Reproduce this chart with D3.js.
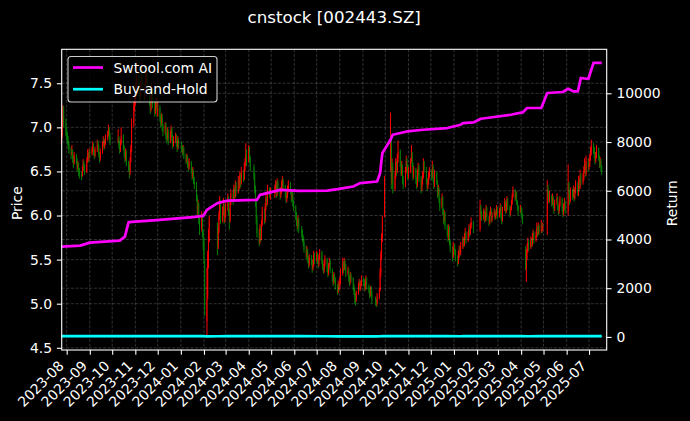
<!DOCTYPE html>
<html><head><meta charset="utf-8">
<script src="https://cdn.jsdelivr.net/npm/d3@7"></script>
<style>body{margin:0;background:#000}svg{display:block}</style>
</head><body>
<svg id="chart" width="690" height="421"></svg>
<script>
// ---------------- DATA ----------------
const chartTitle = "cnstock [002443.SZ]";
const seriesNames = ["Swtool.com AI", "Buy-and-Hold"];
const monthTicks = ["2023-08","2023-09","2023-10","2023-11","2023-12","2024-01","2024-02","2024-03","2024-04","2024-05","2024-06","2024-07","2024-08","2024-09","2024-10","2024-11","2024-12","2025-01","2025-02","2025-03","2025-04","2025-05","2025-06","2025-07"];
const priceTicks = [4.5, 5.0, 5.5, 6.0, 6.5, 7.0, 7.5];
const returnTicks = [0, 2000, 4000, 6000, 8000, 10000];
const firstTradeDate = "2023-07-25";
const lastTradeDate = "2025-07-18";
const holidays = ["2023-09-29","2023-10-02","2023-10-03","2023-10-04","2023-10-05","2023-10-06","2024-01-01","2024-02-09","2024-02-12","2024-02-13","2024-02-14","2024-02-15","2024-02-16","2024-04-04","2024-04-05","2024-05-01","2024-05-02","2024-05-03","2024-06-10","2024-09-16","2024-09-17","2024-10-01","2024-10-02","2024-10-03","2024-10-04","2024-10-07","2025-01-01","2025-01-28","2025-01-29","2025-01-30","2025-01-31","2025-02-03","2025-02-04","2025-04-04","2025-05-01","2025-05-02","2025-05-05","2025-06-02"];
// daily candles per month: "open high low close" in fen (price*100), one group per trading day
const candleMonths = ["2023-07","2023-08","2023-09","2023-10","2023-11","2023-12","2024-01","2024-02","2024-03","2024-04","2024-05","2024-06","2024-07","2024-08","2024-09","2024-10","2024-11","2024-12","2025-01","2025-02","2025-03","2025-04","2025-05","2025-06","2025-07"];
const candleData = [
"685 698 680 690,690 710 688 705,705 725 700 722,722 724 700 705,705 710 690 695",
"695 700 685 690,690 695 680 685,685 690 675 680,680 684 670 675,675 678 664 670,670 680 668 672,672 675 660 665,665 668 654 660,660 672 658 668,668 670 658 662,662 665 650 655,655 662 652 658,658 660 645 650,650 654 642 648,648 650 640 645,645 656 644 652,652 664 650 660,660 662 650 655,655 658 646 650,650 666 648 662,662 675 660 670,670 672 660 665,665 676 662 672",
"672 675 665 670,670 678 668 675,675 684 672 680,680 682 668 672,672 675 664 668,668 678 666 675,675 686 672 682,682 685 674 678,678 680 666 670,670 672 660 665,665 676 662 672,672 684 670 680,680 690 678 685,685 688 674 678,678 686 676 682,682 692 680 688,688 696 685 692,692 703 690 698,698 700 686 690,690 694 680 685",
"685 698 682 688,688 690 676 680,680 684 670 675,675 686 672 682,682 700 680 690,690 692 674 678,678 680 666 670,670 672 660 665,665 676 662 672,672 674 656 660,660 662 650 655,655 658 642 648,648 666 646 662,662 680 660 675,675 710 672 705,705 730 700 725,725 738 718 730",
"730 752 725 745,745 760 735 740,740 765 738 758,758 762 740 745,745 748 728 735,735 752 732 748,748 773 745 765,765 768 742 748,748 750 730 735,735 752 732 745,745 762 742 755,755 768 750 760,760 762 738 742,742 745 725 730,730 734 715 720,720 738 718 732,732 748 730 742,742 745 722 728,728 730 712 718,718 728 715 722,722 734 720 728,728 730 712 718",
"718 732 712 722,722 725 706 710,710 714 700 705,705 716 702 712,712 715 696 700,700 704 690 695,695 706 692 702,702 705 686 690,690 694 682 688,688 700 685 695,695 698 680 685,685 696 682 692,692 702 688 698,698 700 684 688,688 692 676 680,680 690 678 685,685 694 682 690,690 692 678 682,682 686 672 678,678 690 675 685,685 688 676 680",
"680 684 672 678,678 680 668 672,672 680 670 675,675 678 664 668,668 670 658 662,662 670 660 665,665 668 654 658,658 662 650 655,655 665 652 660,660 662 648 652,652 655 640 645,645 655 642 650,650 652 636 640,640 644 630 635,635 638 616 620,620 624 600 605,605 618 600 612,612 615 590 595,595 600 578 585,585 605 582 600,600 602 575 580,580 584 560 565",
"570 575 545 550,545 550 486 495,480 541 463 505,510 560 505 555,550 585 540 580,585 600 570 595,590 592 555 565,565 588 562 582,582 605 580 600,600 622 595 615,615 618 590 595,595 610 592 605,605 620 600 612,612 615 590 595,595 608 592 602",
"602 615 598 610,610 625 605 620,620 622 600 605,605 608 584 595,595 618 592 615,615 630 612 625,625 628 612 618,618 635 615 630,630 632 618 622,622 640 620 635,635 638 622 628,628 645 625 640,640 642 628 632,632 650 630 645,645 648 632 638,638 655 635 650,650 652 638 642,642 660 640 655,655 665 650 660,660 682 656 670,670 675 656 662",
"662 680 660 675,675 678 660 665,665 668 650 655,655 658 640 645,645 648 625 630,630 634 610 615,615 618 590 595,595 600 575 580,580 585 565 570,570 590 568 585,585 588 570 575,575 595 572 590,590 610 588 605,605 608 590 595,595 614 592 610,610 625 606 620,620 622 610 615,615 635 612 630,630 632 620 625,625 632 618 628",
"628 635 620 630,630 640 625 635,635 638 620 625,625 642 622 638,638 640 625 630,630 632 618 622,622 632 620 628,628 640 625 635,635 645 630 640,640 642 628 632,632 635 620 625,625 628 614 618,618 626 615 622,622 634 620 630,630 640 626 635,635 638 624 628,628 630 615 620,620 628 618 625,625 628 610 615,615 618 605 610",
"610 612 595 600,600 604 588 592,592 596 582 588,588 600 585 595,595 598 580 585,585 588 575 580,580 584 570 575,575 578 565 570,570 574 558 562,562 566 550 555,555 565 552 560,560 562 546 550,550 554 540 545,545 556 542 552,552 555 544 548,548 550 535 540,540 550 538 545,545 560 542 555,555 558 545 550",
"550 560 548 555,555 558 545 550,550 552 540 545,545 556 542 552,552 562 550 558,558 560 545 548,548 550 538 542,542 545 534 538,538 550 535 545,545 555 542 550,550 552 536 540,540 542 530 535,535 546 532 542,542 552 540 548,548 550 535 538,538 540 525 530,530 532 520 525,525 536 522 532,532 534 524 528,528 530 516 520,520 522 510 515,515 526 512 522,522 524 514 518",
"518 530 516 525,525 540 522 535,535 552 532 545,545 548 535 540,540 552 538 548,548 550 538 542,542 545 530 535,535 542 532 538,538 540 525 530,530 532 520 525,525 536 522 532,532 535 524 528,528 530 515 520,520 522 510 515,515 518 500 508,508 512 498 505,505 515 502 512,512 524 510 520,520 528 516 525,525 527 514 518,518 526 515 522,522 532 520 528",
"528 530 520 525,525 528 514 518,518 525 515 522,522 532 520 528,528 530 516 520,520 522 512 515,515 518 506 510,510 520 508 518,518 520 508 512,512 515 500 505,505 508 498 502,502 505 496 500,500 512 498 508,508 518 505 515,515 540 514 535,535 560 530 555,555 580 550 575,575 600 570 595,600 645 598 640",
"660 717 650 690,690 692 630 640,640 665 635 655,655 660 625 630,630 650 628 645,645 665 642 660,660 662 645 650,650 670 648 665,665 685 660 672,672 675 655 660,660 662 645 648,648 662 645 655,655 658 636 640,640 645 630 635,635 655 632 650,650 668 648 662,662 665 650 655,655 658 640 645",
"645 655 642 650,650 665 648 662,662 680 660 670,670 672 655 658,658 660 640 645,645 656 642 652,652 654 636 640,640 644 630 635,635 652 632 648,648 660 645 655,655 658 638 642,642 645 625 630,630 642 628 638,638 650 635 645,645 665 642 660,660 662 648 652,652 655 636 640,640 642 628 632,632 642 630 638,638 650 635 645,645 655 642 650",
"650 652 640 645,645 662 642 655,655 658 638 642,642 645 630 635,635 652 632 648,648 650 635 638,638 640 620 625,625 635 622 630,630 632 614 618,618 620 605 610,610 625 608 620,620 622 600 605,605 608 590 595,595 606 592 602,602 604 584 588,588 590 576 580,580 582 570 575,575 590 572 585,585 588 566 570,570 572 558 562,562 565 548 555,555 570 552 565",
"565 568 555 560,560 562 548 552,552 555 542 548,548 560 545 555,555 566 552 562,562 565 554 558,558 570 555 565,565 576 562 572,572 575 564 568,568 580 565 575,575 586 572 580,580 582 568 572,572 582 570 578,578 590 575 585,585 588 576 580,580 592 578 588,588 598 585 592,592 594 580 585",
"585 618 582 610,610 612 598 602,602 605 594 598,598 608 595 605,605 606 592 595,595 604 593 600,600 612 598 608,608 610 594 598,598 600 588 592,592 605 590 602,602 610 600 606,606 608 592 595,595 604 593 600,600 608 598 605,605 607 595 598,598 605 596 602,602 612 600 608,608 610 596 600",
"600 608 598 605,605 614 602 610,610 612 596 600,600 602 590 595,595 610 593 608,608 620 605 615,615 617 602 605,605 615 603 612,612 622 610 618,618 620 606 610,610 612 598 602,602 610 600 608,608 618 606 615,615 625 612 622,622 633 620 628,628 630 616 620,620 628 618 625,625 627 612 615,615 617 606 610,610 612 600 605,605 612 603 608",
"608 610 600 605,605 608 596 600,600 602 590 595,560 565 538 542,540 562 525 558,558 568 550 562,562 575 558 570,570 572 560 565,565 576 562 572,572 574 564 568,568 580 565 575,575 584 572 580,580 582 568 572,572 582 570 578,578 592 575 585,585 588 576 580,580 592 578 588,588 590 578 582,582 595 580 590,590 592 580 585,585 592 582 588",
"590 640 578 630,630 635 620 625,625 628 614 618,618 628 615 622,622 624 610 615,615 625 612 620,620 622 608 612,612 614 602 608,608 618 605 615,615 625 612 620,620 622 606 610,610 612 600 605,605 615 602 612,612 622 610 618,618 620 604 608,608 610 598 602,602 614 600 610,610 620 606 615,615 617 602 605",
"605 658 600 635,635 638 620 625,625 628 612 618,618 632 615 628,628 630 618 622,622 634 620 630,630 632 616 620,620 632 618 628,628 640 625 635,635 638 622 625,625 645 622 640,640 642 628 632,632 652 630 645,645 648 634 638,638 648 635 642,642 656 640 650,650 665 648 658,658 660 644 648,648 668 645 662,662 665 650 655",
"655 665 652 658,658 670 655 665,665 678 662 672,672 686 668 680,680 682 670 675,675 678 665 670,670 672 658 662,662 672 660 668,668 680 665 675,675 677 662 665,665 668 654 658,658 666 655 662,662 664 650 655,655 657 646 650"
];
const returnDates = ["2023-07-25","2023-08-19","2023-09-01","2023-10-11","2023-10-18","2023-10-23","2023-12-04","2024-01-17","2024-01-31","2024-02-05","2024-02-19","2024-03-04","2024-04-12","2024-04-16","2024-05-13","2024-06-07","2024-07-15","2024-07-29","2024-08-19","2024-08-28","2024-09-20","2024-09-24","2024-09-27","2024-10-08","2024-10-11","2024-10-30","2024-11-21","2024-12-23","2025-01-10","2025-01-13","2025-01-27","2025-02-06","2025-02-24","2025-03-18","2025-04-03","2025-04-09","2025-04-28","2025-05-06","2025-05-27","2025-06-03","2025-06-10","2025-06-16","2025-06-20","2025-06-30","2025-07-07","2025-07-18"];
const aiReturn = [3707,3748,3872,3954,4118,4710,4805,4916,4969,5216,5491,5598,5627,5832,6038,5997,6009,6067,6173,6313,6379,6724,7546,8093,8298,8434,8504,8574,8709,8779,8804,8956,9026,9120,9215,9396,9396,10012,10053,10189,10078,10078,10629,10588,11245,11245];
const buyHoldReturn = [36,34,35,35,35,34,37,34,30,25,29,32,30,30,33,30,28,27,27,27,26,28,31,35,33,34,33,30,29,30,30,31,31,32,31,29,30,33,32,33,33,33,33,34,35,34];

// ---------------- CHART ----------------
const W = 690, H = 421;
const M = {l: 61.7, r: 606.7, t: 49.3, b: 350};
const FONT = "DejaVu Sans, Liberation Sans, sans-serif";
const svg = d3.select("#chart");
svg.append("rect").attr("width", W).attr("height", H).attr("fill", "#000");

const parse = d3.timeParse("%Y-%m-%d");
const fmt = d3.timeFormat("%Y-%m-%d");
const hol = new Set(holidays);
const candles = [];
candleMonths.forEach((mo, i) => {
  const mStart = parse(mo + "-01");
  const start = i === 0 ? parse(firstTradeDate) : mStart;
  const end = i === candleMonths.length - 1 ? d3.timeDay.offset(parse(lastTradeDate), 1) : d3.timeMonth.offset(mStart, 1);
  const days = d3.timeDays(start, end).filter(d => d.getDay() % 6 !== 0 && !hol.has(fmt(d)));
  const rows = candleData[i].split(",").map(s => s.trim().split(/\s+/).map(v => +v / 100));
  rows.forEach((r, k) => {
    const d = days[Math.min(days.length - 1, Math.floor(k * days.length / rows.length))];
    candles.push({date: d, o: r[0], h: r[1], l: r[2], c: r[3]});
  });
});

const pMin = d3.min(candles, d => d.l), pMax = d3.max(candles, d => d.h);
const pPad = (pMax - pMin) * 0.05;
const rAll = aiReturn.concat(buyHoldReturn);
const rMin = d3.min(rAll), rMax = d3.max(rAll), rPad = (rMax - rMin) * 0.05;

const x = d3.scaleTime().domain([new Date(2023, 6, 25, 8), new Date(2025, 6, 24, 16)]).range([M.l, M.r]);
const yP = d3.scaleLinear().domain([pMin - pPad, pMax + pPad]).range([M.b, M.t]);
const yR = d3.scaleLinear().domain([rMin - rPad, rMax + rPad]).range([M.b, M.t]);

const tickDates = monthTicks.map(s => parse(s + "-01"));
const gridStyle = g => g.attr("stroke", "rgba(255,255,255,0.28)").attr("stroke-width", 0.7).attr("stroke-dasharray", "3,1.6");

// grid (price axis)
const grid = svg.append("g");
grid.selectAll("line.v").data(tickDates).join("line").attr("class", "v")
  .attr("x1", d => x(d)).attr("x2", d => x(d)).attr("y1", M.t).attr("y2", M.b).call(gridStyle);
grid.selectAll("line.hp").data(priceTicks).join("line").attr("class", "hp")
  .attr("x1", M.l).attr("x2", M.r).attr("y1", d => yP(d)).attr("y2", d => yP(d)).call(gridStyle);

// candles
const dayPx = x(new Date(2024, 0, 2)) - x(new Date(2024, 0, 1));
const cg = svg.append("g");
const col = d => d.c >= d.o ? "#ff0000" : "#008000";
cg.selectAll("line").data(candles).join("line")
  .attr("x1", d => x(d.date)).attr("x2", d => x(d.date))
  .attr("y1", d => yP(d.h)).attr("y2", d => yP(d.l))
  .attr("stroke", col).attr("stroke-width", 1);
cg.selectAll("rect").data(candles).join("rect")
  .attr("x", d => x(d.date) - dayPx * 0.45).attr("width", dayPx * 0.9)
  .attr("y", d => yP(Math.max(d.o, d.c))).attr("height", d => Math.max(0.6, Math.abs(yP(d.o) - yP(d.c))))
  .attr("fill", col);

// grid (return axis, twin axes)
svg.append("g").selectAll("line").data(returnTicks).join("line")
  .attr("x1", M.l).attr("x2", M.r).attr("y1", d => yR(d)).attr("y2", d => yR(d)).call(gridStyle);

// lines
const rd = returnDates.map(parse);
const line = d3.line().x((d, i) => x(rd[i])).y(d => yR(d));
svg.append("path").attr("d", line(buyHoldReturn)).attr("fill", "none").attr("stroke", "#00ffff").attr("stroke-width", 2.7);
svg.append("path").attr("d", line(aiReturn)).attr("fill", "none").attr("stroke", "#ff00ff").attr("stroke-width", 2.7).attr("stroke-linejoin", "round");

// spines
svg.append("rect").attr("x", M.l).attr("y", M.t).attr("width", M.r - M.l).attr("height", M.b - M.t)
  .attr("fill", "none").attr("stroke", "#fff").attr("stroke-width", 1.1);

const styleAxis = g => {
  g.select(".domain").remove();
  g.selectAll(".tick line").attr("stroke", "#fff").attr("stroke-width", 1.1);
  g.selectAll("text").attr("fill", "#fff").attr("font-family", FONT).attr("font-size", 13.9);
};
svg.append("g").attr("transform", `translate(${M.l},0)`)
  .call(d3.axisLeft(yP).tickValues(priceTicks).tickFormat(d3.format(".1f")).tickSize(4.86).tickPadding(4.86).tickSizeOuter(0))
  .call(styleAxis);
svg.append("g").attr("transform", `translate(${M.r},0)`)
  .call(d3.axisRight(yR).tickValues(returnTicks).tickFormat(d3.format("d")).tickSize(4.86).tickPadding(4.86).tickSizeOuter(0))
  .call(styleAxis);
const xa = svg.append("g").attr("transform", `translate(0,${M.b})`)
  .call(d3.axisBottom(x).tickValues(tickDates).tickFormat(d3.timeFormat("%Y-%m")).tickSize(4.86).tickSizeOuter(0))
  .call(styleAxis);
xa.selectAll(".tick text").attr("x", 0).attr("y", 0).attr("dy", null)
  .attr("text-anchor", "end").attr("transform", "translate(-2.3,16.8) rotate(-45)");

// axis labels
const labelY = (M.t + M.b) / 2 + 3.5;
svg.append("text").attr("transform", `translate(22,${labelY}) rotate(-90)`)
  .attr("text-anchor", "middle").attr("fill", "#fff").attr("font-family", FONT).attr("font-size", 13.9).text("Price");
svg.append("text").attr("transform", `translate(677,${labelY}) rotate(-90)`)
  .attr("text-anchor", "middle").attr("fill", "#fff").attr("font-family", FONT).attr("font-size", 13.9).text("Return");

// title
svg.append("text").attr("x", (M.l + M.r) / 2).attr("y", 22.5).attr("text-anchor", "middle")
  .attr("fill", "#fff").attr("font-family", FONT).attr("font-size", 16.7).text(chartTitle);

// legend
const lg = svg.append("g");
lg.append("rect").attr("x", 68).attr("y", 56.5).attr("width", 149).attr("height", 45.5).attr("rx", 3)
  .attr("fill", "rgba(0,0,0,0.8)").attr("stroke", "rgba(255,255,255,0.8)").attr("stroke-width", 1.1);
[["#ff00ff", seriesNames[0]], ["#00ffff", seriesNames[1]]].forEach(([c, t], i) => {
  const yy = 67.5 + i * 21.7;
  lg.append("line").attr("x1", 73).attr("x2", 103).attr("y1", yy).attr("y2", yy).attr("stroke", c).attr("stroke-width", 2.7);
  lg.append("text").attr("x", 113.5).attr("y", yy + 5.1).attr("fill", "#fff").attr("font-family", FONT).attr("font-size", 13.9).text(t);
});
</script>
</body></html>
